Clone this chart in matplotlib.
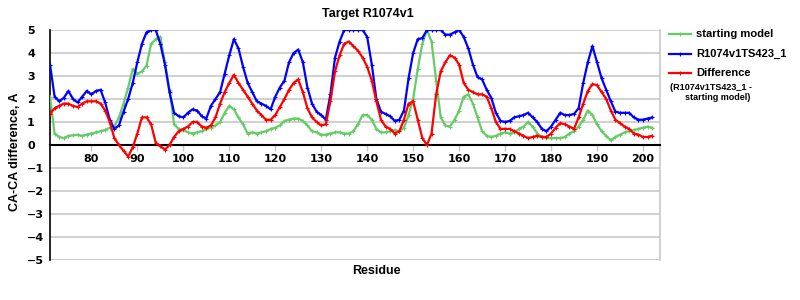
import matplotlib
matplotlib.use("Agg")
import matplotlib.pyplot as plt
from matplotlib.lines import Line2D
import numpy as np

residues = list(range(71, 203))

starting_model = [
    2.1, 0.5, 0.35, 0.3, 0.4, 0.42, 0.45, 0.4, 0.45, 0.5,          # 71-80
    0.55, 0.6, 0.65, 0.75, 0.8, 1.2, 1.8, 2.5, 3.3, 3.1,           # 81-90
    3.2, 3.45, 4.4, 4.6, 4.7, 3.6, 2.4, 0.9, 0.7, 0.65,            # 91-100
    0.55, 0.5, 0.55, 0.6, 0.7, 0.75, 0.85, 1.0, 1.4, 1.7,          # 101-110
    1.55, 1.2, 0.9, 0.5, 0.55, 0.5, 0.55, 0.6, 0.7, 0.75,          # 111-120
    0.85, 1.05, 1.1, 1.15, 1.15, 1.05, 0.85, 0.6, 0.55, 0.45,      # 121-130
    0.45, 0.5, 0.55, 0.55, 0.5, 0.5, 0.6, 0.9, 1.3, 1.3,           # 131-140
    1.1, 0.7, 0.55, 0.55, 0.6, 0.65, 0.6, 0.75, 1.3, 2.0,          # 141-150
    3.3, 4.4, 5.0, 4.5, 2.8, 1.2, 0.85, 0.8, 1.1, 1.5,             # 151-160
    2.1, 2.2, 1.8, 1.2, 0.6, 0.4, 0.35, 0.4, 0.5, 0.55,            # 161-170
    0.5, 0.55, 0.7, 0.8, 1.0, 0.8, 0.5, 0.35, 0.3, 0.3,            # 171-180
    0.3, 0.3, 0.35, 0.5, 0.6, 0.8, 1.1, 1.5, 1.3, 0.9,             # 181-190
    0.6, 0.4, 0.2, 0.35, 0.45, 0.55, 0.6, 0.65, 0.7, 0.75,         # 191-200
    0.8, 0.75,                                                     # 201-202
]

model_ts423 = [
    3.5, 2.1, 1.9, 2.05, 2.35, 2.0, 1.85, 2.1, 2.35, 2.2,          # 71-80
    2.35, 2.4, 1.85, 1.1, 0.7, 0.85, 1.45, 2.0, 2.7, 3.6,          # 81-90
    4.4, 4.9, 5.0, 5.0, 4.4, 3.5, 2.3, 1.4, 1.25, 1.2,             # 91-100
    1.4, 1.55, 1.5, 1.25, 1.15, 1.7, 2.0, 2.3, 3.1, 3.9,           # 101-110
    4.6, 4.2, 3.4, 2.7, 2.3, 1.9, 1.8, 1.7, 1.55, 2.1,             # 111-120
    2.5, 2.8, 3.6, 4.0, 4.15, 3.6, 2.5, 1.8, 1.45, 1.3,            # 121-130
    1.1, 2.2, 3.8, 4.5, 5.0, 5.0, 5.0, 5.0, 5.0, 4.7,              # 131-140
    3.5, 2.0, 1.45, 1.35, 1.25, 1.05, 1.1, 1.5, 2.9, 4.0,          # 141-150
    4.6, 4.65, 5.0, 5.0, 5.0, 5.0, 4.8, 4.8, 4.9, 5.0,             # 151-160
    4.7, 4.2, 3.5, 2.95, 2.85, 2.4, 2.05, 1.4, 1.05, 1.0,          # 161-170
    1.05, 1.2, 1.25, 1.3, 1.4, 1.2, 1.0, 0.7, 0.6, 0.8,            # 171-180
    1.1, 1.4, 1.3, 1.3, 1.35, 1.6, 2.7, 3.6, 4.3, 3.6,             # 181-190
    2.9, 2.4, 1.9, 1.45, 1.4, 1.4, 1.4, 1.2, 1.1, 1.1,             # 191-200
    1.15, 1.2,                                                     # 201-202
]

difference = [
    1.35, 1.6, 1.7, 1.8, 1.8, 1.7, 1.65, 1.8, 1.9, 1.9,            # 71-80
    1.9, 1.8, 1.5, 1.0, 0.3, 0.0, -0.25, -0.5, -0.1, 0.5,          # 81-90
    1.2, 1.2, 0.9, 0.1, -0.05, -0.2, 0.0, 0.35, 0.6, 0.7,          # 91-100
    0.8, 1.0, 1.0, 0.8, 0.75, 0.85, 1.2, 1.8, 2.3, 2.7,            # 101-110
    3.05, 2.7, 2.4, 2.1, 1.8, 1.5, 1.3, 1.1, 1.1, 1.3,             # 111-120
    1.65, 2.0, 2.4, 2.7, 2.85, 2.3, 1.6, 1.2, 1.0, 0.85,           # 121-130
    0.9, 1.9, 3.2, 3.9, 4.4, 4.5, 4.3, 4.1, 3.8, 3.4,              # 131-140
    2.8, 1.9, 1.1, 0.8, 0.7, 0.5, 0.6, 1.1, 1.8, 1.9,              # 141-150
    1.1, 0.3, 0.0, 0.5, 2.2, 3.2, 3.6, 3.9, 3.8, 3.5,              # 151-160
    2.7, 2.4, 2.3, 2.2, 2.2, 2.1, 1.6, 1.0, 0.7, 0.7,              # 161-170
    0.7, 0.6, 0.5, 0.4, 0.3, 0.35, 0.4, 0.35, 0.35, 0.5,           # 171-180
    0.75, 0.95, 0.9, 0.8, 0.7, 1.2, 1.8, 2.35, 2.65, 2.6,          # 181-190
    2.3, 2.0, 1.5, 1.1, 0.95, 0.8, 0.7, 0.5, 0.45, 0.35,           # 191-200
    0.35, 0.4,                                                     # 201-202
]

series_names = ["starting model", "R1074v1TS423_1", "Difference"]
x_ticks = [80, 90, 100, 110, 120, 130, 140, 150, 160, 170, 180, 190, 200]
y_ticks = [-5, -4, -3, -2, -1, 0, 1, 2, 3, 4, 5]

GREEN = "#66cc66"
BLUE = "#0000ff"
RED = "#ff0000"
GRID = "#c8c8c8"

W, H = 800, 300
fig = plt.figure(figsize=(8, 3), dpi=100)
fig.patch.set_facecolor("white")
ax = fig.add_axes([50 / W, 1 - 260 / H, 610 / W, 230 / H])

ax.set_xlim(71, 203.7)
ax.set_ylim(-5, 5)

ax.set_yticks(y_ticks)
ax.yaxis.grid(True, color=GRID, linewidth=1.2)
ax.set_axisbelow(True)

ax.spines["top"].set_visible(False)
ax.spines["right"].set_color(GRID)
ax.spines["right"].set_linewidth(1.2)
ax.spines["left"].set_color("black")
ax.spines["left"].set_linewidth(1.2)
ax.spines["bottom"].set_position(("data", 0))
ax.spines["bottom"].set_color("black")
ax.spines["bottom"].set_linewidth(1.5)
ax.axhline(-5, color=GRID, linewidth=1.5, zorder=0.5)

ax.set_xticks(x_ticks)
ax.tick_params(axis="x", direction="out", length=4, width=1, color=GRID,
               pad=2.5, labelsize=8)
ax.tick_params(axis="y", length=0, pad=16.5, labelsize=8)
for lab in ax.get_xticklabels() + ax.get_yticklabels():
    lab.set_fontfamily("DejaVu Sans")
    lab.set_fontweight("bold")
for lab in ax.get_yticklabels():
    lab.set_horizontalalignment("left")

mk = dict(marker="+", markersize=2.5, markeredgewidth=0.8)
ax.plot(residues, starting_model, color=GREEN, linewidth=1.6, zorder=3, **mk)
ax.plot(residues, model_ts423, color=BLUE, linewidth=1.6, zorder=4, **mk)
ax.plot(residues, difference, color=RED, linewidth=1.6, zorder=5, **mk)

lab_font = dict(family="Liberation Sans", weight="bold")
fig.text(368 / W, 1 - 14 / H, "Target R1074v1", ha="center", va="center",
         fontsize=9, **lab_font)
fig.text(376 / W, 1 - 271 / H, "Residue", ha="center", va="center",
         fontsize=9, **lab_font)
fig.text(15 / W, 1 - 152 / H, "CA-CA difference, A", ha="center", va="center",
         rotation=90, fontsize=9, **lab_font)

# legend
colors = [GREEN, BLUE, RED]
ys = [34, 54, 73]
for name, c, yy in zip(series_names, colors, ys):
    fig.add_artist(Line2D([669 / W, 691 / W], [1 - yy / H, 1 - yy / H],
                          transform=fig.transFigure, color=c, linewidth=1.6))
    fig.add_artist(Line2D([680 / W], [1 - yy / H], transform=fig.transFigure,
                          color=c, **mk))
    fig.text(696 / W, 1 - yy / H, name, ha="left", va="center", fontsize=8,
             **lab_font)
fig.text(670 / W, 1 - 87 / H, "(R1074v1TS423_1 -", ha="left", va="center",
         fontsize=6.5, **lab_font)
fig.text(685 / W, 1 - 98 / H, "starting model)", ha="left", va="center",
         fontsize=6.5, **lab_font)

fig.savefig("out.png", dpi=100, facecolor="white")
